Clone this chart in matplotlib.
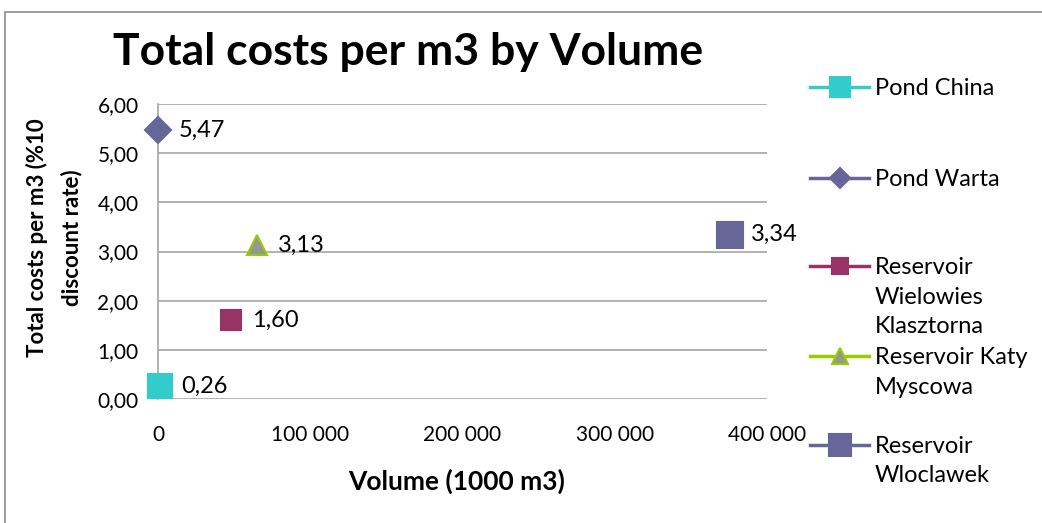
import matplotlib.pyplot as plt
from matplotlib.lines import Line2D
from matplotlib.patches import Rectangle
from matplotlib.ticker import FuncFormatter

plt.rcParams['font.family'] = ['Lato', 'DejaVu Sans']

# volume (1000 m3) and total cost per m3 at 10% discount rate
series = ["Pond China", "Pond Warta", "Reservoir Wielowies Klasztorna",
          "Reservoir Katy Myscowa", "Reservoir Wloclawek"]
legend_labels = ["Pond China", "Pond Warta", "Reservoir\nWielowies\nKlasztorna",
                 "Reservoir Katy\nMyscowa", "Reservoir\nWloclawek"]
volume = [1500, 0, 48000, 65000, 376000]
cost = [0.26, 5.47, 1.60, 3.13, 3.34]

markers = ['s', 'D', 's', '^', 's']
face = ['#33CCCC', '#666699', '#993366', '#969696', '#666699']
edge = ['#33CCCC', '#666699', '#993366', '#99CC00', '#666699']
line_col = ['#33CCCC', '#666699', '#993366', '#99CC00', '#666699']
msize = [17, 13, 14, 14, 19]

W, H = 1042, 523
fig = plt.figure(figsize=(W / 100, H / 100), dpi=100)
ax = fig.add_axes([158 / W, 1 - 399 / H, (767 - 158) / W, (399 - 104) / H])

for i in range(len(series)):
    ax.plot(volume[i], cost[i], marker=markers[i], ms=msize[i], mfc=face[i],
            mec=edge[i], mew=1.5, ls='none', clip_on=False, zorder=3)
    ax.annotate(f"{cost[i]:.2f}".replace('.', ','), (volume[i], cost[i]),
                xytext=(15, 0), textcoords='offset points', ha='left',
                va='center', fontsize=17)

ax.set_xlim(0, 400000)
ax.set_ylim(0, 6)
ax.set_xticks([0, 100000, 200000, 300000, 400000])
ax.set_yticks(range(7))
ax.xaxis.set_major_formatter(FuncFormatter(lambda v, p: f"{int(v):,}".replace(',', ' ')))
ax.yaxis.set_major_formatter(FuncFormatter(lambda v, p: f"{v:.2f}".replace('.', ',')))
ax.tick_params(axis='both', length=0, labelsize=15)
ax.tick_params(axis='x', pad=19)
ax.tick_params(axis='y', pad=14)
ax.grid(axis='y', color='#A6A6A6', lw=1.2)
ax.set_axisbelow(True)
for s in ['top', 'right', 'bottom']:
    ax.spines[s].set_visible(False)
ax.spines['left'].set_color('#A6A6A6')
ax.spines['left'].set_linewidth(1.2)

fig.text(408 / W, 1 - 52 / H, "Total costs per m3 by Volume", ha='center',
         va='center', fontsize=32, fontweight='bold')
fig.text(457 / W, 1 - 481 / H, "Volume (1000 m3)", ha='center', va='center',
         fontsize=19, fontweight='bold')
fig.text(54 / W, 1 - 238 / H, "Total costs per m3 (%10\ndiscount rate)",
         ha='center', va='center', rotation=90, fontsize=16,
         fontweight='bold', linespacing=1.75)

# legend drawn by hand so the handle sits next to the first text line
legend_y = [87, 178, 266, 356, 445]
for i in range(len(series)):
    yy = 1 - legend_y[i] / H
    fig.add_artist(Line2D([810 / W, 869 / W], [yy, yy], color=line_col[i], lw=2.5))
    fig.add_artist(Line2D([839.5 / W], [yy], marker=markers[i], ms=msize[i] * 0.82,
                          mfc=face[i], mec=edge[i], mew=1.5, ls='none'))
    fig.text(875 / W, yy + 9 / H, legend_labels[i], ha='left', va='top',
             fontsize=17, linespacing=1.5)

fig.add_artist(Rectangle((5 / W, -0.1), 1.2, 1.1 - 12 / H, transform=fig.transFigure,
                         fill=False, ec='#8C8C8C', lw=1.2))

fig.savefig('out.png', dpi=100)
